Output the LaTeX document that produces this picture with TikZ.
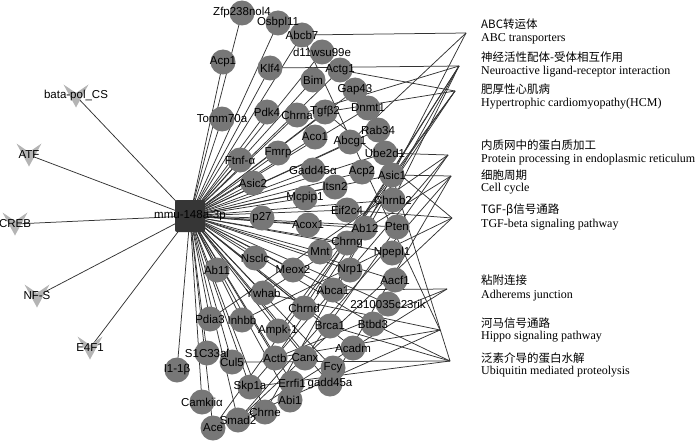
\documentclass[tikz,border=0pt]{standalone}
\usepackage{fontspec}
\setmainfont{Liberation Serif}
\newfontfamily\labfont{Liberation Sans}
\newfontfamily\cjk{Noto Sans CJK SC}
\pgfdeclarelayer{edgelayer}
\pgfsetlayers{edgelayer,main}
\definecolor{genegray}{HTML}{777777}
\definecolor{hubgray}{HTML}{363636}
\definecolor{tfgray}{HTML}{B4B4B4}
\definecolor{edgegray}{HTML}{333333}
\begin{document}
\begin{tikzpicture}[x=1pt,y=-1pt,
  gene/.style={circle,fill=genegray,minimum size=25pt,inner sep=0pt},
  glab/.style={font=\labfont\fontsize{11.5}{12}\selectfont,inner sep=0pt},
  edge/.style={draw=edgegray,line width=0.75pt},
  cn/.style={font=\cjk\fontsize{11.5}{12}\selectfont,anchor=west,inner sep=0pt},
  en/.style={font=\fontsize{12}{13}\selectfont,anchor=west,inner sep=0pt}]
\useasboundingbox (0,0) rectangle (700,441);
\def\genelist{Zfp/242/13/Zfp238nol4, Osb/278/23/Osbpl11, Abcb7/302/35/Abcb7, dwsu/322/52/d11wsu99e,
 Acp1/223/62/Acp1, Klf4/270/68/Klf4, Bim/313/80/Bim, Actg1/340/70/Actg1, Gap43/355/90/Gap43,
 Dnmt1/368/108/Dnmt1, Pdk4/267/112/Pdk4, Chrna/297/115/Chrna, Tgfb2/325/112/Tgfβ2,
 Tomm/222/119/Tomm70a, Aco1/315/137/Aco1, Abcg1/350/142/Abcg1, Rab34/378/130/Rab34,
 Ube2d1/385/153/Ube2d1, Ftnf/240/160/Ftnf-α, Fmrp/278/153/Fmrp, Gadd/313/170/Gadd45α,
 Acp2/362/172/Acp2, Asic1/392/175/Asic1, Itsn2/335/187/Itsn2, Asic2/253/183/Asic2,
 Mcpip1/305/198/Mcpip1, Chrnb2/393/200/Chrnb2, Eif2c4/347/210/Eif2c4, p27/262/218/p27,
 Acox1/308/225/Acox1, Ab12/365/228/Ab12, Pten/397/227/Pten, Chrng/347/243/Chrng,
 Mnt/320/252/Mnt, Npepl1/392/253/Npepl1, Nsclc/255/258/Nsclc, Meox2/293/270/Meox2,
 Nrp1/350/270/Nrp1, Aacf1/395/280/Aacf1, Ab11/217/270/Ab11, Abca1/333/290/Abca1,
 Ywhab/263/293/Ywhab, rik/388/304/2310035c23rik, Chrnd/304/308/Chrnd, Pdia3/210/319/Pdia3,
 Inhbb/242/320/Inhbb, Ampk/278/331/Ampk-1, Brca1/330/326/Brca1, Btbd3/373/324/Btbd3,
 Acadm/353/348/Acadm, SC/207/353/S1C33al, Cul5/232/362/Cul5, Actb/275/358/Actb,
 Canx/305/358/Canx, Fcy/333/368/Fcy, Il/177/370/I1-1β, Skp1a/250/387/Skp1a,
 Errfi1/292/383/Errfi1, gadd/330/384/gadd45a, Abi1/290/400/Abi1, Camk/202/402/Camkiiα,
 Chrne/265/412/Chrne, Smad2/238/420/Smad2, Ace/213/428/Ace}
% hub
\node[fill=hubgray,rounded corners=2pt,minimum width=30pt,minimum height=32pt,inner sep=0pt] (hub) at (190,216) {};
% gene circles
\foreach \i/\x/\y/\t in \genelist {\node[gene] (\i) at (\x,\y) {};}
% TF nodes
\foreach \i/\x/\y in {tfA/76/96, tfB/29/155, tfC/15/224, tfD/37/296, tfE/90/348}{
  \coordinate (\i) at (\x,\y);
  \fill[tfgray] (\x-12.5,\y-11.5) -- (\x,\y-3) -- (\x+12.5,\y-11.5) -- (\x,\y+11.5) -- cycle;
}
% pathway anchor points
\coordinate (pABC) at (466,33);
\coordinate (pNeu) at (459,66);
\coordinate (pHCM) at (455,91);
\coordinate (pER) at (448,155);
\coordinate (pCC) at (451,176);
\coordinate (pTGF) at (452,218);
\coordinate (pAdh) at (447,289);
\coordinate (pHip) at (440,330);
\coordinate (pUbi) at (450,361);
\begin{pgfonlayer}{edgelayer}
\foreach \i/\x/\y/\t in \genelist {\draw[edge] (hub.center) -- (\i.center);}
\foreach \i in {tfA,tfB,tfC,tfD,tfE}{\draw[edge] (\i) -- (hub.center);}
\foreach \i in {Abcb7,Abcg1,Abca1}{\draw[edge] (\i.center) -- (pABC);}
\foreach \i in {Klf4,Chrna,Chrnb2,Chrng,Chrnd,Chrne}{\draw[edge] (\i.center) -- (pNeu);}
\foreach \i in {Actg1,Tgfb2,Actb,Ace,Ampk}{\draw[edge] (\i.center) -- (pHCM);}
\foreach \i in {Ube2d1,Canx,Pdia3,Skp1a}{\draw[edge] (\i.center) -- (pER);}
\foreach \i in {Asic1,Smad2,Ywhab,gadd}{\draw[edge] (\i.center) -- (pCC);}
\foreach \i in {Tgfb2,Smad2,Inhbb,Eif2c4}{\draw[edge] (\i.center) -- (pTGF);}
\foreach \i in {Abca1,Actb,Smad2}{\draw[edge] (\i.center) -- (pAdh);}
\foreach \i in {Smad2,Abcb7,Actb,Ywhab}{\draw[edge] (\i.center) -- (pHip);}
\foreach \i in {Cul5,Skp1a,Ube2d1,Brca1,Btbd3}{\draw[edge] (\i.center) -- (pUbi);}
\end{pgfonlayer}
% labels
\foreach \i/\x/\y/\t in \genelist {\node[glab] at (\i) {\t};}
\node[glab] (hublab) at (hub) {mmu-148a-3p};
\node[glab] (lA) at (tfA) {bata-pol\_CS};
\node[glab] (lB) at (tfB) {ATF};
\node[glab] (lC) at (tfC) {CREB};
\node[glab] (lD) at (tfD) {NF-S};
\node[glab] (lE) at (tfE) {E4F1};
% legend texts
\node[cn] (t1) at (481,24) {ABC转运体};
\node[en] (e1) at (481,39) {ABC transporters};
\node[cn] (t2) at (481,57) {神经活性配体-受体相互作用};
\node[en] (e2) at (481,72) {Neuroactive ligand-receptor interaction};
\node[cn] (t3) at (481,89) {肥厚性心肌病};
\node[en] (e3) at (481,104) {Hypertrophic cardiomyopathy(HCM)};
\node[cn] (t4) at (481,145) {内质网中的蛋白质加工};
\node[en] (e4) at (481,160) {Protein processing in endoplasmic reticulum};
\node[cn] (t5) at (481,175) {细胞周期};
\node[en] (e5) at (481,189) {Cell cycle};
\node[cn] (t6) at (481,210) {TGF-β信号通路};
\node[en] (e6) at (481,225) {TGF-beta signaling pathway};
\node[cn] (t7) at (481,280) {粘附连接};
\node[en] (e7) at (481,296) {Adherems junction};
\node[cn] (t8) at (481,323) {河马信号通路};
\node[en] (e8) at (481,337) {Hippo signaling pathway};
\node[cn] (t9) at (481,358) {泛素介导的蛋白水解};
\node[en] (e9) at (481,372) {Ubiquitin mediated proteolysis};
\end{tikzpicture}
\end{document}
